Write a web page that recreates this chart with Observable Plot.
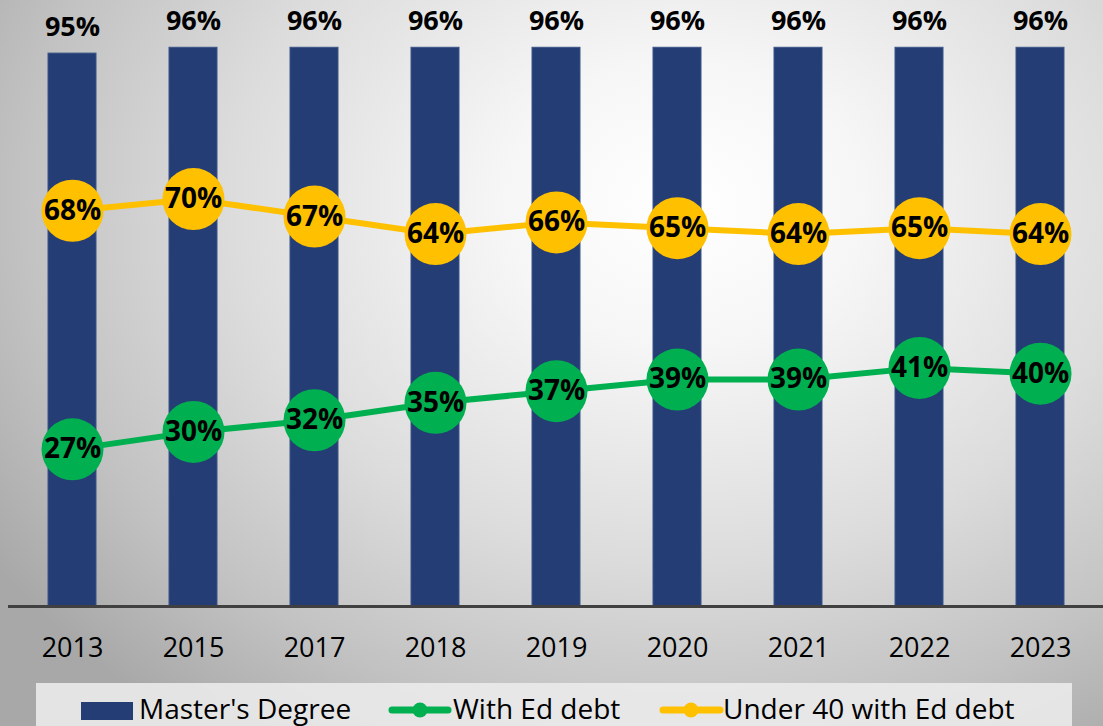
<!DOCTYPE html>
<html>
<head>
<meta charset="utf-8">
<script src="https://cdn.jsdelivr.net/npm/d3@7"></script>
<script src="https://cdn.jsdelivr.net/npm/@observablehq/plot@0.6"></script>
<style>
  html, body { margin: 0; padding: 0; }
  #wrap {
    position: relative; width: 1103px; height: 726px; overflow: hidden;
    background: radial-gradient(ellipse 75% 90% at 62% 28%, #ffffff 0%, #f6f6f6 22%, #dcdcdc 55%, #c2c2c2 80%, #a8a8a8 100%);
    font-family: 'Open Sans', sans-serif;
  }
  #chart { position: absolute; left: 0; top: 0; }
  #legend { position: absolute; left: 36px; top: 683px; width: 1036px; height: 43px; background: rgba(236,236,236,0.88); }
</style>
</head>
<body>
<div id="wrap">
  <div id="chart"></div>
  <div id="legend"></div>
</div>
<script>
const years = ["2013", "2015", "2017", "2018", "2019", "2020", "2021", "2022", "2023"];
const masters = [95, 96, 96, 96, 96, 96, 96, 96, 96];
const withDebt = [27, 30, 32, 35, 37, 39, 39, 41, 40];
const under40 = [68, 70, 67, 64, 66, 65, 64, 65, 64];
const seriesNames = ["Master's Degree", "With Ed debt", "Under 40 with Ed debt"];
const colors = ["#243d74", "#00b050", "#ffc000"];

const rows = years.map((y, i) => ({year: y, masters: masters[i], withDebt: withDebt[i], under40: under40[i]}));

const chart = Plot.plot({
  width: 1103,
  height: 680,
  marginTop: 24,
  marginBottom: 74,
  marginLeft: 8,
  marginRight: 0,
  style: {background: "transparent", fontFamily: "'Open Sans', sans-serif", color: "#000", overflow: "visible"},
  x: {domain: years, paddingInner: 0.605, paddingOuter: 0.3085, label: null},
  y: {domain: [0, 100], axis: null},
  marks: [
    Plot.barY(rows, {x: "year", y: "masters", fill: colors[0], stroke: "#3b5487", strokeWidth: 1}),
    Plot.ruleY([0], {stroke: "#404040", strokeWidth: 3}),
    Plot.axisX({tickSize: 0, tickPadding: 31, fontSize: 27, label: null}),
    Plot.text(rows, {x: "year", y: "masters", text: d => d.masters + "%", dy: -26, fontSize: 27, fontWeight: "bold", fill: "#000"}),
    Plot.line(rows, {x: "year", y: "under40", stroke: colors[2], strokeWidth: 6}),
    Plot.dot(rows, {x: "year", y: "under40", r: 31, fill: colors[2]}),
    Plot.text(rows, {x: "year", y: "under40", text: d => d.under40 + "%", fontSize: 28, fontWeight: "bold", fill: "#000"}),
    Plot.line(rows, {x: "year", y: "withDebt", stroke: colors[1], strokeWidth: 6}),
    Plot.dot(rows, {x: "year", y: "withDebt", r: 31, fill: colors[1]}),
    Plot.text(rows, {x: "year", y: "withDebt", text: d => d.withDebt + "%", fontSize: 28, fontWeight: "bold", fill: "#000"})
  ]
});
document.getElementById("chart").appendChild(chart);

// Legend (coordinates relative to the legend box at left 36, top 683)
const lg = d3.select("#legend").append("svg").attr("width", 1036).attr("height", 43);
lg.append("rect").attr("x", 81 - 36).attr("y", 702 - 683).attr("width", 52).attr("height", 18).attr("fill", colors[0]);
lg.append("text").attr("x", 139 - 36).attr("y", 719 - 683).text(seriesNames[0]);
[[392, 448, 420, colors[1], 453, seriesNames[1]], [663, 720, 691, colors[2], 723, seriesNames[2]]].forEach(([x1, x2, cx, c, tx, name]) => {
  lg.append("line").attr("x1", x1 - 36).attr("x2", x2 - 36).attr("y1", 710 - 683).attr("y2", 710 - 683)
    .attr("stroke", c).attr("stroke-width", 7).attr("stroke-linecap", "round");
  lg.append("circle").attr("cx", cx - 36).attr("cy", 710 - 683).attr("r", 7.5).attr("fill", c);
  lg.append("text").attr("x", tx - 36).attr("y", 719 - 683).text(name);
});
lg.selectAll("text").attr("font-size", 28).attr("font-family", "'Open Sans', sans-serif").attr("fill", "#000");
</script>
</body>
</html>
